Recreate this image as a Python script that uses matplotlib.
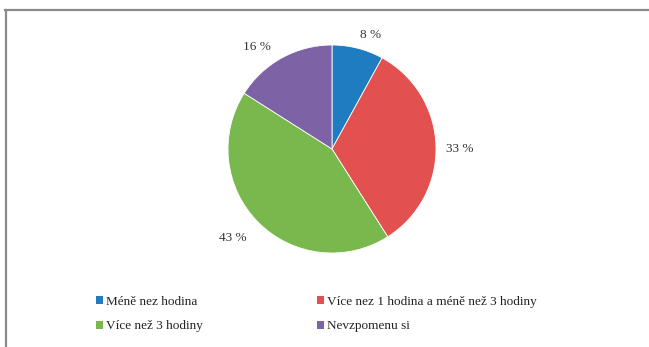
import matplotlib
matplotlib.use('Agg')
import matplotlib.pyplot as plt
from matplotlib.patches import Patch
from matplotlib.lines import Line2D

# data
labels = ['Méně nez hodina', 'Více nez 1 hodina a méně než 3 hodiny',
          'Více než 3 hodiny', 'Nevzpomenu si']
values = [8, 33, 43, 16]
colors = ['#1f7cc1', '#e2504f', '#79b84c', '#7e62a6']

plt.rcParams['font.family'] = ['Liberation Serif', 'DejaVu Serif']

W, H = 649, 347
fig = plt.figure(figsize=(W / 100, H / 100), dpi=100)

# pie axes, center ~ (332,149) px, radius ~104 px
cx, cy, r = 332, 149, 104
ax = fig.add_axes([(cx - r) / W, (H - cy - r) / H, 2 * r / W, 2 * r / H])
wedges, texts, autotexts = ax.pie(
    values, colors=colors, startangle=90, counterclock=False,
    autopct=lambda p: '%d %%' % round(p), pctdistance=1.2,
    wedgeprops=dict(linewidth=0.6, edgecolor='white'),
    textprops=dict(fontsize=9.5, color='#333333'))
# excel-like "best fit" placement of the percentage labels
label_pos = [(0.37, 1.1), (1.23, 0.0), (-0.95, -0.86), (-0.72, 0.98)]
for t, p in zip(autotexts, label_pos):
    t.set_position(p)
ax.set_xlim(-1, 1)
ax.set_ylim(-1, 1)
ax.set_aspect('equal')

# legend: row1 blue/red, row2 green/purple
order = [0, 2, 1, 3]
handles = [Patch(facecolor=colors[i], edgecolor='none') for i in order]
fig.legend(handles, [labels[i] for i in order], ncol=2, frameon=False,
           loc='upper left', bbox_to_anchor=(84 / W, 1 - 284 / H),
           fontsize=9.5, handlelength=0.55, handleheight=0.55,
           handletextpad=0.2, columnspacing=8.65, labelspacing=0.95,
           labelcolor='#222222')

# partial frame (top and left lines)
fig.add_artist(Line2D([5 / W, 1], [1 - 9.5 / H, 1 - 9.5 / H],
                      color='#8a8a8a', lw=1.6, transform=fig.transFigure))
fig.add_artist(Line2D([5.5 / W, 5.5 / W], [0, 1 - 9.5 / H],
                      color='#8a8a8a', lw=1.6, transform=fig.transFigure))

fig.savefig('out.png', dpi=100)
